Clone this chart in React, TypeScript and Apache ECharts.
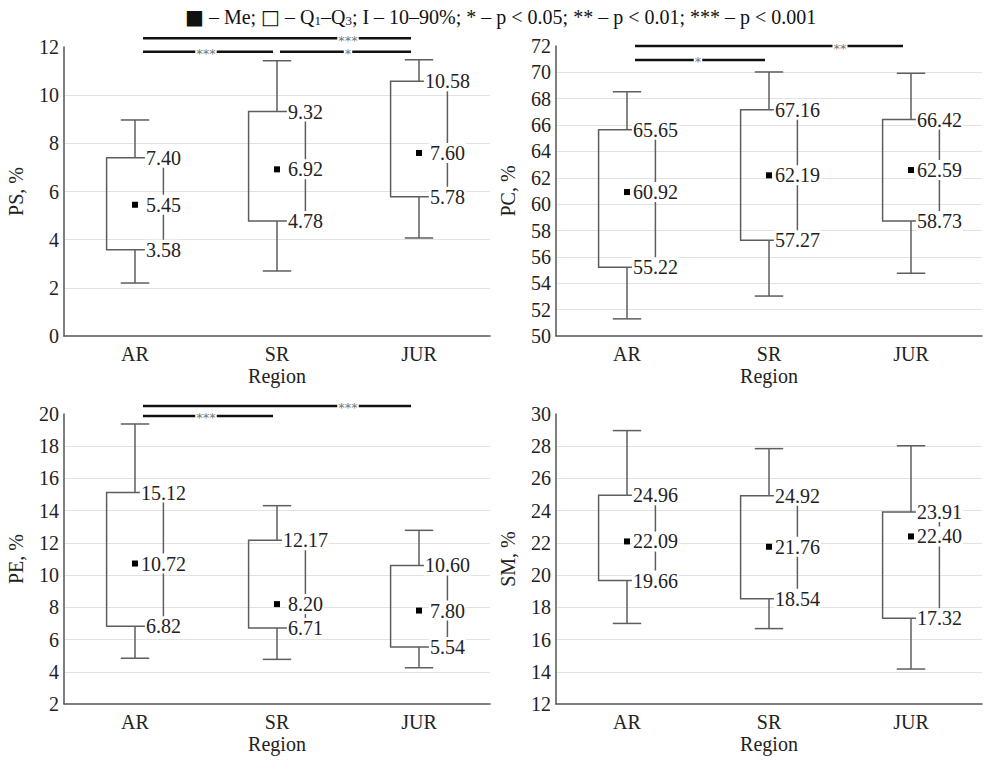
import React, { useEffect, useRef } from "react";
import * as echarts from "echarts";

const CATEGORIES = ["AR", "SR", "JUR"];
const LEGEND_TEXT =
  "{sq|■} – Me; {sq|□} – Q{sub|1}–Q{sub|3}; I – 10–90%; * – p < 0.05; ** – p < 0.01; *** – p < 0.001";

// [p10, q1, median, q3, p90] for AR, SR, JUR
const PS_STATS = [
  [2.2, 3.58, 5.45, 7.4, 8.97],
  [2.7, 4.78, 6.92, 9.32, 11.43],
  [4.07, 5.78, 7.6, 10.58, 11.47],
];
const PC_STATS = [
  [51.3, 55.22, 60.92, 65.65, 68.53],
  [53.03, 57.27, 62.19, 67.16, 70.03],
  [54.76, 58.73, 62.59, 66.42, 69.93],
];
const PE_STATS = [
  [4.84, 6.82, 10.72, 15.12, 19.38],
  [4.77, 6.71, 8.2, 12.17, 14.31],
  [4.25, 5.54, 7.8, 10.6, 12.78],
];
const SM_STATS = [
  [17.0, 19.66, 22.09, 24.96, 28.97],
  [16.68, 18.54, 21.76, 24.92, 27.85],
  [14.17, 17.32, 22.4, 23.91, 28.03],
];

// significance brackets: from category index, to category index, level (y value), label
const PS_SIG_FROM = [0, 0, 1];
const PS_SIG_TO = [2, 1, 2];
const PS_SIG_LEVEL = [12.36, 11.8, 11.8];
const PS_SIG_LABEL = ["***", "***", "*"];

const PC_SIG_FROM = [0, 0];
const PC_SIG_TO = [2, 1];
const PC_SIG_LEVEL = [72.0, 70.94];
const PC_SIG_LABEL = ["**", "*"];

const PE_SIG_FROM = [0, 0];
const PE_SIG_TO = [2, 1];
const PE_SIG_LEVEL = [20.5, 19.88];
const PE_SIG_LABEL = ["***", "***"];

const Y_NAMES = ["PS, %", "PC, %", "PE, %", "SM, %"];
const Y_MIN = [0, 50, 2, 12];
const Y_MAX = [12, 72, 20, 30];

const FONT = "'Liberation Serif', 'Times New Roman', serif";

function boxRender(params: any, api: any) {
  const cat = api.value(0);
  const p10 = api.value(1);
  const q1 = api.value(2);
  const med = api.value(3);
  const q3 = api.value(4);
  const p90 = api.value(5);
  const x = api.coord([cat, med])[0];
  const band = api.size([1, 0])[0];
  const half = band * 0.2;
  const cap = band * 0.1;
  const y10 = api.coord([cat, p10])[1];
  const y1 = api.coord([cat, q1])[1];
  const ym = api.coord([cat, med])[1];
  const y3 = api.coord([cat, q3])[1];
  const y90 = api.coord([cat, p90])[1];
  const stroke = { stroke: "#5e5e5e", lineWidth: 1.5, fill: null };
  const label = (v: number, y: number) => ({
    type: "text",
    z2: 10,
    style: {
      text: v.toFixed(2),
      x: x + half,
      y: y,
      align: "center",
      verticalAlign: "middle",
      font: `20px ${FONT}`,
      fill: "#222",
      backgroundColor: "#fff",
      padding: [0, 1],
    },
  });
  return {
    type: "group",
    children: [
      { type: "line", shape: { x1: x, y1: y90, x2: x, y2: y3 }, style: stroke },
      { type: "line", shape: { x1: x - cap, y1: y90, x2: x + cap, y2: y90 }, style: stroke },
      { type: "line", shape: { x1: x, y1: y1, x2: x, y2: y10 }, style: stroke },
      { type: "line", shape: { x1: x - cap, y1: y10, x2: x + cap, y2: y10 }, style: stroke },
      { type: "rect", shape: { x: x - half, y: y3, width: half * 2, height: y1 - y3 }, style: stroke },
      { type: "rect", shape: { x: x - 3, y: ym - 3, width: 6, height: 6 }, style: { fill: "#000" } },
      label(q3, y3),
      label(med, ym),
      label(q1, y1),
    ],
  };
}

function makeSigRender(from: number[], to: number[], level: number[], labels: string[]) {
  return (params: any, api: any) => {
    const i = params.dataIndex;
    const a = api.coord([from[i], level[i]]);
    const b = api.coord([to[i], level[i]]);
    const prev = api.coord([to[i] - 1, level[i]]);
    const startOff = from[i] === 0 ? 8 : 3;
    const endOff = to[i] === 2 ? 8 : 4;
    const mx = (prev[0] + b[0]) / 2;
    return {
      type: "group",
      children: [
        {
          type: "line",
          shape: { x1: a[0] + startOff, y1: a[1], x2: b[0] - endOff, y2: a[1] },
          style: { stroke: "#111", lineWidth: 2.5 },
        },
        {
          type: "text",
          style: {
            text: labels[i],
            x: mx,
            y: a[1] + 2,
            align: "center",
            verticalAlign: "middle",
            font: `13px 'DejaVu Sans', sans-serif`,
            fill: "#777",
            backgroundColor: "#fff",
            padding: [0, 1],
          },
        },
      ],
    };
  };
}

export default function App() {
  const ref = useRef<HTMLDivElement>(null);
  useEffect(() => {
    document.body.style.margin = "0";
    if (!ref.current) return;
    const chart = echarts.init(ref.current, null, { renderer: "svg" });
    const grids = [
      { left: 64, top: 47, width: 426, height: 289 },
      { left: 556, top: 46, width: 426, height: 290 },
      { left: 64, top: 414, width: 426, height: 290 },
      { left: 556, top: 414, width: 426, height: 290 },
    ];
    const stats = [PS_STATS, PC_STATS, PE_STATS, SM_STATS];
    const xAxis = grids.map((_, i) => ({
      gridIndex: i,
      type: "category",
      data: CATEGORIES,
      name: "Region",
      nameLocation: "middle",
      nameGap: 30,
      nameTextStyle: { fontFamily: FONT, fontSize: 20, color: "#222" },
      axisLabel: { fontFamily: FONT, fontSize: 20, color: "#222", margin: 8 },
      axisLine: { lineStyle: { color: "#555", width: 1.5 } },
      axisTick: { alignWithLabel: true, inside: true, length: 4, lineStyle: { color: "#777" } },
      splitLine: { show: false },
    }));
    const yAxis = grids.map((_, i) => ({
      gridIndex: i,
      type: "value",
      min: Y_MIN[i],
      max: Y_MAX[i],
      interval: 2,
      name: Y_NAMES[i],
      nameLocation: "middle",
      nameGap: 38,
      nameTextStyle: { fontFamily: FONT, fontSize: 20, color: "#222" },
      axisLabel: { fontFamily: FONT, fontSize: 20, color: "#222", margin: 5 },
      axisLine: { show: true, lineStyle: { color: "#555", width: 1.5 } },
      axisTick: { show: false },
      splitLine: { show: true, showMaxLine: false, showMinLine: false, lineStyle: { color: "#e2e2e2", width: 1 } },
    }));
    const series: any[] = stats.map((s, i) => ({
      type: "custom",
      xAxisIndex: i,
      yAxisIndex: i,
      clip: false,
      renderItem: boxRender,
      encode: { x: 0, y: [1, 2, 3, 4, 5] },
      data: s.map((row, idx) => [idx, ...row]),
    }));
    const sigs = [
      [PS_SIG_FROM, PS_SIG_TO, PS_SIG_LEVEL, PS_SIG_LABEL],
      [PC_SIG_FROM, PC_SIG_TO, PC_SIG_LEVEL, PC_SIG_LABEL],
      [PE_SIG_FROM, PE_SIG_TO, PE_SIG_LEVEL, PE_SIG_LABEL],
    ] as any[];
    sigs.forEach((sg, i) => {
      series.push({
        type: "custom",
        xAxisIndex: i,
        yAxisIndex: i,
        clip: false,
        z: 5,
        renderItem: makeSigRender(sg[0], sg[1], sg[2], sg[3]),
        encode: { x: 0, y: 2 },
        data: sg[0].map((f: number, k: number) => [f, sg[1][k], sg[2][k]]),
      });
    });
    chart.setOption({
      animation: false,
      backgroundColor: "#fff",
      title: {
        text: LEGEND_TEXT,
        left: 180,
        top: 1,
        textStyle: {
          fontFamily: FONT,
          fontSize: 20,
          fontWeight: "normal",
          color: "#111",
          rich: {
            sq: { fontFamily: "'DejaVu Sans', sans-serif", fontSize: 20, color: "#111" },
            sub: { fontFamily: FONT, fontSize: 13, color: "#111", verticalAlign: "bottom", padding: [8, 0, 0, 0] },
          },
        },
      },
      grid: grids,
      xAxis,
      yAxis,
      series,
    });
    return () => chart.dispose();
  }, []);
  return <div ref={ref} style={{ width: 985, height: 761 }} />;
}
